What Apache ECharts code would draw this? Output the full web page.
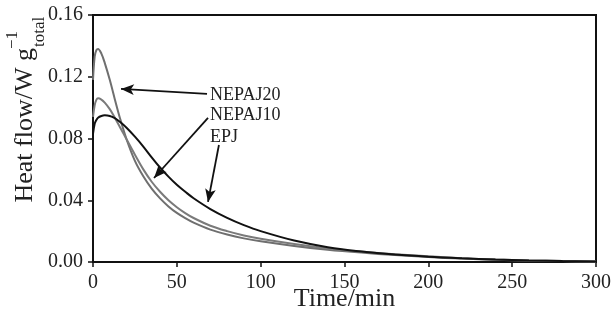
<!DOCTYPE html>
<html>
<head>
<meta charset="utf-8">
<script src="https://cdn.jsdelivr.net/npm/echarts@6/dist/echarts.min.js"></script>
<style>html,body{margin:0;padding:0;background:#fff}#c{width:613px;height:322px}</style>
</head>
<body>
<div id="c"></div>
<script>
const time     = [0,1,2,3,5,7,10,13,16,20,25,30,35,40,45,50,55,60,70,80,90,100,120,140,160,180,200,220,240,260,280,300];
const nepaj20  = [0.118,0.133,0.1372,0.138,0.135,0.129,0.118,0.1055,0.0935,0.0795,0.0655,0.0555,0.0475,0.0412,0.0360,0.0318,0.0284,0.0255,0.0210,0.0178,0.0153,0.0134,0.0104,0.0080,0.0061,0.0045,0.0032,0.0022,0.0014,0.0009,0.0006,0.0004];
const nepaj10  = [0.094,0.1015,0.1050,0.1060,0.1052,0.1032,0.0990,0.0935,0.0875,0.0795,0.0695,0.0600,0.0520,0.0455,0.0400,0.0355,0.0317,0.0285,0.0235,0.0200,0.0172,0.0150,0.0116,0.0088,0.0068,0.0051,0.0037,0.0025,0.0016,0.0010,0.0006,0.0004];
const epj      = [0.083,0.0895,0.0920,0.0935,0.0946,0.0950,0.0946,0.0932,0.0908,0.0870,0.0812,0.0748,0.0678,0.0612,0.0553,0.0500,0.0455,0.0413,0.0343,0.0286,0.0239,0.0200,0.0139,0.0096,0.0068,0.0048,0.0034,0.0024,0.0016,0.0010,0.0006,0.0004];
const xTicks   = [0,50,100,150,200,250,300];
const yTicks   = [0.00,0.04,0.08,0.12,0.16];
const labelNames = ['NEPAJ20','NEPAJ10','EPJ'];
// annotation arrows in data coordinates: [startT, startV, tipT, tipV]
const arrows = [[68.0,0.1089,16.7,0.1121],[68.6,0.0933,36.4,0.0544],[75.1,0.0758,68.6,0.0389]];
const labelPos = [[69.8,0.1082],[69.8,0.0953],[69.8,0.0810]];

const FONT = 'Liberation Serif';
const zip = a => time.map((t,i)=>[t,a[i]]);
const chart = echarts.init(document.getElementById('c'));
chart.setOption({
  animation:false,
  backgroundColor:'#fff',
  grid:{left:93,right:17,top:15,bottom:60,outerBoundsMode:'none',containLabel:false,show:true,borderColor:'#111',borderWidth:2,backgroundColor:'transparent'},
  xAxis:{type:'value',min:xTicks[0],max:xTicks[xTicks.length-1],interval:50,
    name:'Time/min',nameLocation:'middle',nameGap:24,nameMoveOverlap:false,
    nameTextStyle:{fontFamily:FONT,fontSize:26,color:'#222'},
    axisLine:{lineStyle:{color:'#111',width:2}},
    axisTick:{show:true,length:5,lineStyle:{color:'#111',width:1.5}},
    axisLabel:{fontFamily:FONT,fontSize:20,color:'#222',margin:11},
    splitLine:{show:false}},
  yAxis:{type:'value',min:yTicks[0],max:yTicks[yTicks.length-1],interval:0.04,
    axisLine:{show:true,lineStyle:{color:'#111',width:2}},
    axisTick:{show:true,length:5,lineStyle:{color:'#111',width:1.5}},
    axisLabel:{fontFamily:FONT,fontSize:20,color:'#222',margin:10,formatter:v=>v.toFixed(2)},
    splitLine:{show:false}},
  series:[
    {name:'NEPAJ20',type:'line',data:zip(nepaj20),smooth:0.35,showSymbol:false,lineStyle:{color:'#6f6f6f',width:2},z:3},
    {name:'NEPAJ10',type:'line',data:zip(nepaj10),smooth:0.35,showSymbol:false,lineStyle:{color:'#7a7a7a',width:2},z:3},
    {name:'EPJ',type:'line',data:zip(epj),smooth:0.35,showSymbol:false,lineStyle:{color:'#111',width:2},z:4,
      markLine:{silent:true,animation:false,symbol:['none','arrow'],symbolSize:[8,13],
        lineStyle:{color:'#111',width:1.8,type:'solid'},label:{show:false},
        data:arrows.map(a=>[{coord:[a[0],a[1]]},{coord:[a[2],a[3]]}])},
      markPoint:{silent:true,symbol:'circle',symbolSize:0,
        label:{show:true,position:'right',distance:0,fontFamily:FONT,fontSize:18,color:'#222',formatter:p=>p.name},
        data:labelNames.map((n,i)=>({name:n,coord:labelPos[i]}))}}
  ]
});
// y-axis title built from rotated text pieces (subscript and superscript)
chart.setOption({graphic:[
  {type:'text',x:25,y:48,rotation:Math.PI/2,style:{text:'Heat flow/W g',font:'26px "'+FONT+'"',fill:'#222',align:'right',verticalAlign:'middle'}},
  {type:'text',x:40,y:47,rotation:Math.PI/2,style:{text:'total',font:'17px "'+FONT+'"',fill:'#222',align:'left',verticalAlign:'middle'}},
  {type:'text',x:13,y:49,rotation:Math.PI/2,style:{text:'\u22121',font:'17px "'+FONT+'"',fill:'#222',align:'left',verticalAlign:'middle'}}
]});
</script>
</body>
</html>
